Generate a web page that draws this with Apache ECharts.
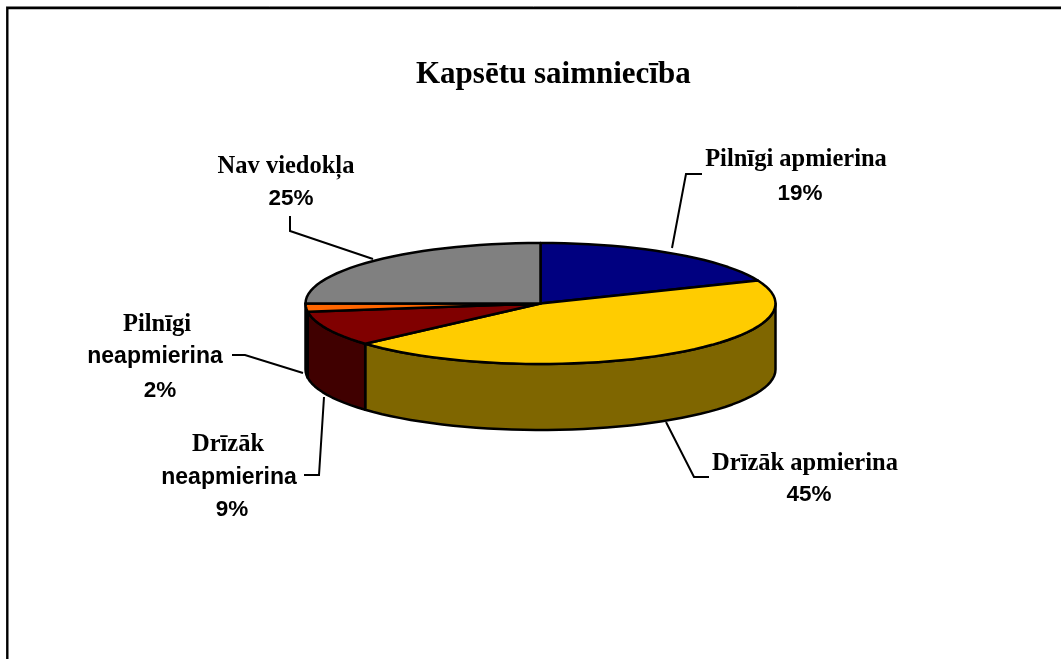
<!DOCTYPE html>
<html>
<head>
<meta charset="utf-8">
<style>
  html, body { margin: 0; padding: 0; background: #fff; }
  #main { width: 1061px; height: 659px; }
</style>
<script src="https://cdn.jsdelivr.net/npm/echarts@6/dist/echarts.min.js"></script>
</head>
<body>
<div id="main"></div>
<script>
// Dati
let categories = ["Pilnīgi apmierina", "Drīzāk apmierina", "Drīzāk neapmierina", "Pilnīgi neapmierina", "Nav viedokļa"];
let values = [18.8, 44.6, 9.45, 2.15, 25];
let topColors = ["#000080", "#FFCC00", "#800000", "#FF6600", "#808080"];
let sideColors = ["#000040", "#7F6600", "#400000", "#803300", "#404040"];

// Paraksti: katra rinda atsevišķi, pēdējā rinda ir procenti
let labelLines = [
  ["Pilnīgi apmierina"],
  ["Drīzāk apmierina"],
  ["Drīzāk", "neapmierina"],
  ["Pilnīgi", "neapmierina"],
  ["Nav viedokļa"],
];
let labelPos = [
  [[796, 160], [800, 194]],
  [[805, 464], [809, 495]],
  [[228, 445], [229, 478], [232, 510]],
  [[157, 325], [155, 357], [160, 391]],
  [[286, 167], [291, 199]],
];
let leaderLines = [
  [[702, 174], [686, 174], [672, 248]],
  [[709, 477], [694, 477], [666, 422]],
  [[304, 475], [319, 475], [324, 397]],
  [[232, 355], [245, 355], [303, 373]],
  [[290, 216], [290, 231], [373, 259]],
];

// Diska ģeometrija
let cx = 540.5;
let cy = 303.5;
let rx = 235;
let ry = 60.5;
let depth = 66;
let total = values.reduce((a, b) => a + b, 0);

let point = (deg, dy) => {
  let r = (deg * Math.PI) / 180;
  return [cx + rx * Math.sin(r), cy - ry * Math.cos(r) + (dy || 0)];
};

let arc = (from, to, dy) => {
  let pts = [];
  let steps = Math.max(1, Math.ceil(Math.abs(to - from) / 3));
  for (let i = 0; i <= steps; i++) {
    pts.push(point(from + ((to - from) * i) / steps, dy));
  }
  return pts;
};

let sliceRange = (index) => {
  let before = values.slice(0, index).reduce((a, b) => a + b, 0);
  return [(before / total) * 360, ((before + values[index]) / total) * 360];
};

let edgeStyle = (color) => ({
  fill: color,
  stroke: "#000",
  lineWidth: 2.5,
  lineJoin: "round",
});

// Sānu mala redzama tikai priekšējā pusē (90-270 grādi)
let renderSide = (params) => {
  let range = sliceRange(params.dataIndex);
  let from = Math.max(range[0], 90);
  let to = Math.min(range[1], 270);
  if (from >= to) return { type: "group", children: [] };
  return {
    type: "polygon",
    shape: { points: arc(from, to, 0).concat(arc(to, from, depth)) },
    style: edgeStyle(sideColors[params.dataIndex]),
  };
};

let renderTop = (params) => {
  let range = sliceRange(params.dataIndex);
  return {
    type: "polygon",
    shape: { points: [[cx, cy]].concat(arc(range[0], range[1], 0)) },
    style: edgeStyle(topColors[params.dataIndex]),
  };
};

let serifFont = '"Liberation Serif", "Times New Roman", serif';
let sansFont = '"Liberation Sans", Arial, sans-serif';

let textItem = (text, pos, family, size) => ({
  type: "text",
  x: pos[0],
  y: pos[1],
  silent: true,
  style: {
    text: text,
    fill: "#000",
    font: `bold ${size}px ${family}`,
    align: "center",
    verticalAlign: "middle",
  },
});

let labelGraphics = [];
categories.forEach((name, i) => {
  labelLines[i].forEach((line, k) => {
    let isSans = line === "neapmierina";
    labelGraphics.push(textItem(line, labelPos[i][k], isSans ? sansFont : serifFont, isSans ? 23 : 24.5));
  });
  labelGraphics.push(textItem(Math.round(values[i]) + "%", labelPos[i][labelLines[i].length], sansFont, 22.5));
  labelGraphics.push({
    type: "polyline",
    shape: { points: leaderLines[i] },
    style: { stroke: "#000", lineWidth: 2, fill: null },
    silent: true,
  });
});

let myChart = echarts.init(document.getElementById("main"), null, { renderer: "canvas" });

myChart.setOption({
  animation: false,
  backgroundColor: "#fff",
  title: {
    text: "Kapsētu saimniecība",
    left: 416,
    top: 59,
    padding: 0,
    textStyle: {
      fontFamily: serifFont,
      fontWeight: "bold",
      fontSize: 31,
      color: "#000",
    },
  },
  graphic: [
    {
      type: "line",
      silent: true,
      shape: { x1: 6, y1: 6.5, x2: 1061, y2: 6.5 },
      style: { stroke: "#aaa", lineWidth: 1 },
    },
    {
      type: "polyline",
      silent: true,
      shape: { points: [[7.3, 659], [7.3, 8], [1061, 8]] },
      style: { stroke: "#000", lineWidth: 2.4, fill: null },
    },
    ...labelGraphics,
  ],
  series: [
    {
      type: "custom",
      coordinateSystem: "none",
      silent: true,
      data: values,
      renderItem: renderSide,
      z: 2,
    },
    {
      type: "custom",
      coordinateSystem: "none",
      silent: true,
      data: values,
      renderItem: renderTop,
      z: 3,
    },
  ],
});
</script>
</body>
</html>
